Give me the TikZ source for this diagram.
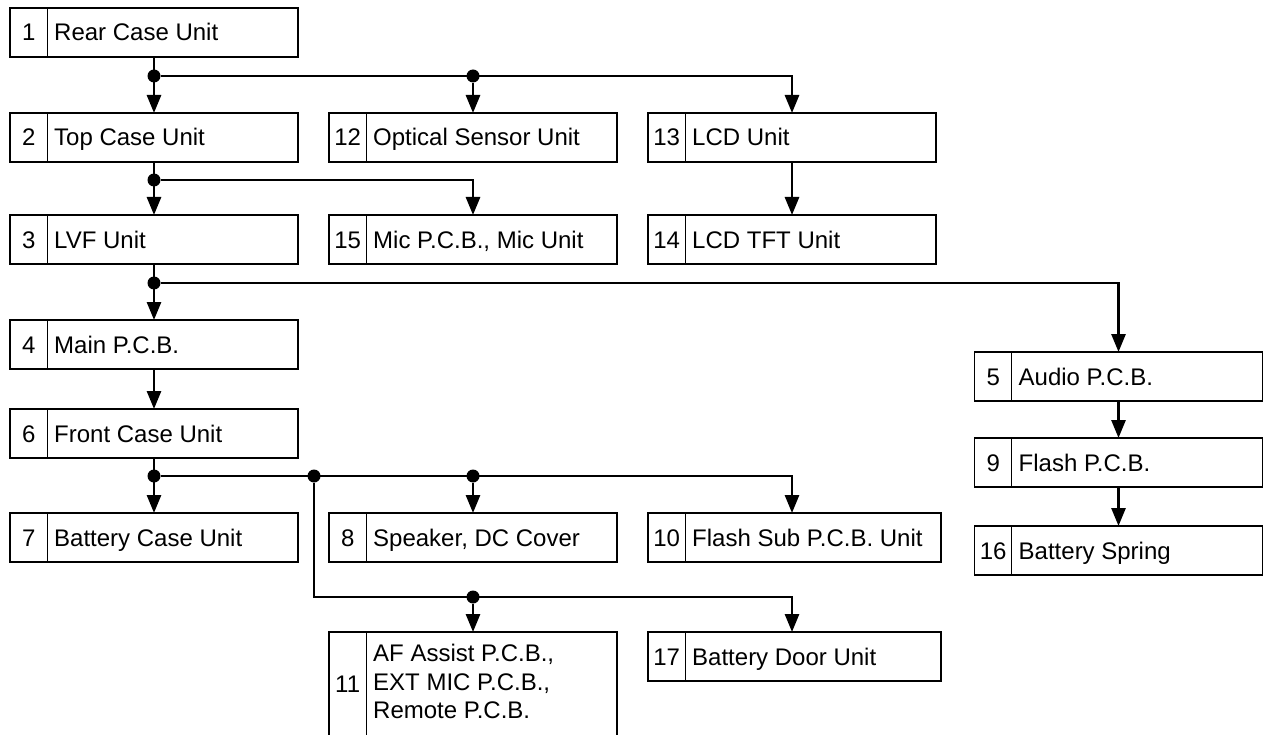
\documentclass[tikz,border=0pt]{standalone}
\usepackage{fontspec}
\setmainfont{Liberation Sans}
\usepackage{tikz}
\usetikzlibrary{arrows.meta,positioning,calc}
\newcommand{\ustrut}{\rule[-5pt]{0pt}{27pt}}
\tikzset{
  box/.style={rectangle, draw=black, line width=1.8pt, minimum width=288pt,
              minimum height=49pt, inner sep=0pt, outer sep=0pt},
  num/.style={anchor=west, minimum width=37pt, inner sep=0pt,
              execute at begin node=\ustrut},
  lbl/.style={anchor=west, align=left, inner xsep=7pt, inner ysep=0pt,
              execute at begin node=\ustrut, execute at end node=\ustrut},
  sep/.style={line width=1pt},
  fl/.style={-{Triangle[length=18pt,width=14pt]}, line width=2.8pt},
  dot/.style={circle, fill=black, inner sep=0pt, minimum size=13pt}
}
% one numbered unit: [position]{name}{number}{label}
\newcommand{\unitbox}[4][]{%
  \node[box, #1] (#2) {};
  \node[num] (#2n) at (#2.west) {#3};
  \node[lbl] (#2t) at ([xshift=37pt]#2.west) {#4};
  \draw[sep] ([xshift=37pt]#2.north west) -- ([xshift=37pt]#2.south west);
}

\begin{document}
\begin{tikzpicture}[x=1pt, y=-1pt, font=\fontsize{24}{28.5}\selectfont]
  \useasboundingbox (0,0) rectangle (1265,735);
  \clip (0,0) rectangle (1265,735);
  % left column
  \unitbox[at={(154,32.5)}]{b1}{1}{Rear Case Unit}
  \unitbox[below=56pt of b1]{b2}{2}{Top Case Unit}
  \unitbox[below=53pt of b2]{b3}{3}{LVF Unit}
  \unitbox[below=56pt of b3]{b4}{4}{Main P.C.B.}
  \unitbox[below=40pt of b4]{b6}{6}{Front Case Unit}
  \unitbox[below=55pt of b6]{b7}{7}{Battery Case Unit}
  % middle columns
  \unitbox[right=31pt of b2]{b12}{12}{Optical Sensor Unit}
  \unitbox[right=31pt of b12]{b13}{13}{LCD Unit}
  \unitbox[right=31pt of b3]{b15}{15}{Mic P.C.B., Mic Unit}
  \unitbox[right=31pt of b15]{b14}{14}{LCD TFT Unit}
  \unitbox[right=31pt of b7]{b8}{8}{Speaker, DC Cover}
  \unitbox[right=31pt of b8, minimum width=293pt]{b10}{10}{Flash Sub P.C.B. Unit}
  \unitbox[below=70pt of b8, minimum height=104pt]{b11}{11}{AF Assist P.C.B.,\\EXT MIC P.C.B.,\\Remote P.C.B.}
  \unitbox[below=70pt of b10, minimum width=293pt]{b17}{17}{Battery Door Unit}
  % right column
  \unitbox[at={(1118.5,376.5)}]{b5}{5}{Audio P.C.B.}
  \unitbox[below=37pt of b5]{b9}{9}{Flash P.C.B.}
  \unitbox[below=39pt of b9]{b16}{16}{Battery Spring}

  % junctions
  \node[dot] (d1) at ($(b1.south)+(0,19)$) {};
  \node[dot] (d1b) at (b12 |- d1) {};
  \node[dot] (d2) at ($(b2.south)+(0,18)$) {};
  \node[dot] (d3) at ($(b3.south)+(0,19)$) {};
  \node[dot] (d4) at ($(b6.south)+(0,18)$) {};
  \node[dot] (d5) at ($(d4)+(160,0)$) {};
  \node[dot] (d6) at (b8 |- d4) {};
  \coordinate (c1) at ($(d5)+(0,121)$);
  \node[dot] (d7) at (b11 |- c1) {};

  \draw[fl] (b1) -- (b2);
  \draw[fl] (d1) -| (b13.north);
  \draw[fl] (d1b) -- (b12);
  \draw[fl] (b2) -- (b3);
  \draw[fl] (d2) -| (b15.north);
  \draw[fl] (b13) -- (b14);
  \draw[fl] (b3) -- (b4);
  \draw[fl] (d3) -| (b5.north);
  \draw[fl] (b4) -- (b6);
  \draw[fl] (b5) -- (b9);
  \draw[fl] (b9) -- (b16);
  \draw[fl] (b6) -- (b7);
  \draw[fl] (d4) -| (b13 |- b10.north);
  \draw[fl] (d6) -- (b8);
  \draw[fl] (d5) -- (c1) -| (b13 |- b17.north);
  \draw[fl] (d7) -- (b11);
\end{tikzpicture}
\end{document}
